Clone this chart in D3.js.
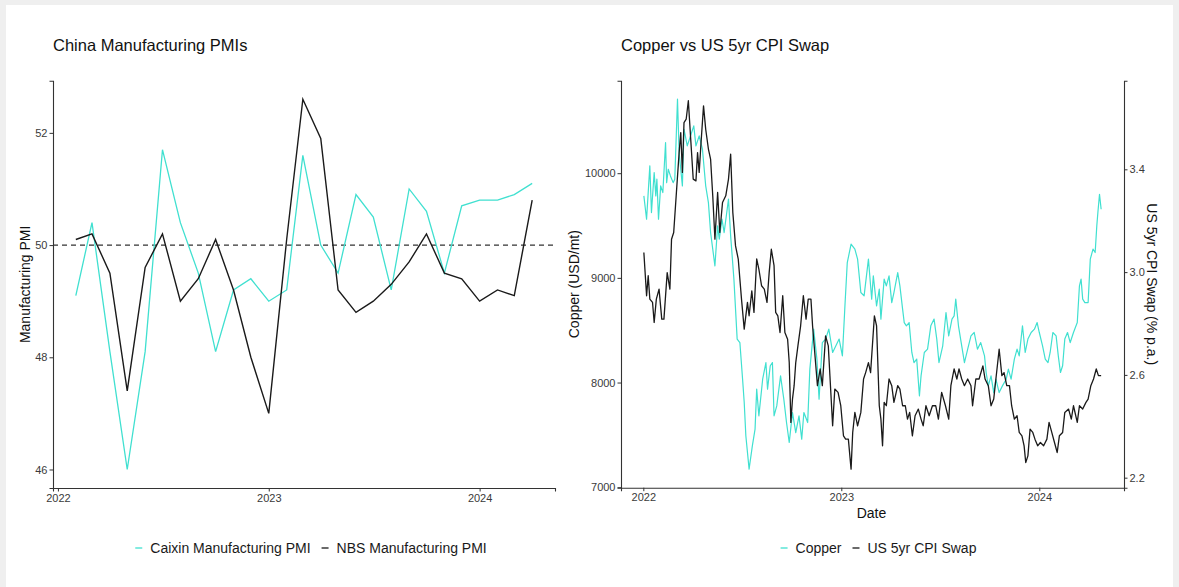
<!DOCTYPE html>
<html><head><meta charset="utf-8">
<script src="https://cdn.jsdelivr.net/npm/d3@7"></script>
<style>
html,body{margin:0;padding:0;background:#efefef;}
svg{display:block;}
text{font-family:"Liberation Sans",Arial,Helvetica,sans-serif;}
</style></head><body>
<svg id="chart" width="1179" height="587"></svg>
<script>
// ---------------- DATA ----------------
const pmiDates = ["2022-02-01","2022-03-01","2022-04-01","2022-05-01","2022-06-01","2022-07-01","2022-08-01","2022-09-01","2022-10-01","2022-11-01","2022-12-01",
  "2023-01-01","2023-02-01","2023-03-01","2023-04-01","2023-05-01","2023-06-01","2023-07-01","2023-08-01","2023-09-01","2023-10-01","2023-11-01","2023-12-01",
  "2024-01-01","2024-02-01","2024-03-01","2024-04-01"];
const caixinPMI = [49.1,50.4,48.1,46.0,48.1,51.7,50.4,49.5,48.1,49.2,49.4,49.0,49.2,51.6,50.0,49.5,50.9,50.5,49.2,51.0,50.6,49.5,50.7,50.8,50.8,50.9,51.1];
const nbsPMI    = [50.1,50.2,49.5,47.4,49.6,50.2,49.0,49.4,50.1,49.2,48.0,47.0,50.1,52.6,51.9,49.2,48.8,49.0,49.3,49.7,50.2,49.5,49.4,49.0,49.2,49.1,50.8];
const pmiThreshold = 50;
const pmiTicks = [46,48,50,52];
const yearTicks = ["2022","2023","2024"];

const copperDates = ["2022-01-02","2022-01-07","2022-01-13","2022-01-16","2022-01-21","2022-01-24","2022-01-26","2022-01-29","2022-02-02","2022-02-06","2022-02-11","2022-02-13","2022-02-16","2022-02-20","2022-02-25","2022-02-28",
"2022-03-05","2022-03-08","2022-03-14","2022-03-17","2022-03-23","2022-04-04","2022-04-08","2022-04-14","2022-04-20","2022-04-26","2022-05-01","2022-05-05","2022-05-13","2022-05-18","2022-05-21","2022-05-26","2022-05-30",
"2022-06-07","2022-06-11","2022-06-17","2022-06-23","2022-06-28","2022-07-03","2022-07-06","2022-07-09","2022-07-15","2022-07-21","2022-07-26","2022-07-29","2022-08-02","2022-08-09","2022-08-15","2022-08-18","2022-08-23","2022-08-27","2022-08-30",
"2022-09-04","2022-09-11","2022-09-17","2022-09-22","2022-09-27","2022-10-03","2022-10-09","2022-10-15","2022-10-20","2022-10-24","2022-10-31","2022-11-04","2022-11-11","2022-11-17","2022-11-21","2022-11-27",
"2022-12-03","2022-12-09","2022-12-16","2022-12-22","2022-12-28","2023-01-03","2023-01-08","2023-01-12","2023-01-19","2023-01-26","2023-01-31","2023-02-06","2023-02-12","2023-02-20","2023-02-24","2023-02-26",
"2023-03-01","2023-03-07","2023-03-12","2023-03-15","2023-03-21","2023-03-25","2023-03-30","2023-04-04","2023-04-08","2023-04-15","2023-04-19","2023-04-24","2023-04-27","2023-05-01","2023-05-06","2023-05-11","2023-05-15","2023-05-20","2023-05-25","2023-05-28",
"2023-06-03","2023-06-09","2023-06-15","2023-06-21","2023-06-26","2023-06-30","2023-07-07","2023-07-13","2023-07-18","2023-07-24","2023-07-28","2023-07-31","2023-08-05","2023-08-10","2023-08-16","2023-08-22","2023-08-28",
"2023-09-03","2023-09-09","2023-09-15","2023-09-22","2023-09-25","2023-09-29","2023-10-04","2023-10-09","2023-10-13","2023-10-19","2023-10-25","2023-11-01","2023-11-05","2023-11-10","2023-11-16","2023-11-21","2023-11-25",
"2023-12-01","2023-12-06","2023-12-11","2023-12-17","2023-12-23","2023-12-28","2024-01-01","2024-01-07","2024-01-12","2024-01-17","2024-01-21","2024-01-26","2024-02-01","2024-02-05","2024-02-09","2024-02-13","2024-02-17","2024-02-22","2024-02-27",
"2024-03-04","2024-03-11","2024-03-15","2024-03-18","2024-03-21","2024-03-25","2024-03-31","2024-04-04","2024-04-09","2024-04-13","2024-04-16","2024-04-18","2024-04-21","2024-04-24"];
const copperValues = [9783,9560,10070,9624,10006,9783,9943,9561,9879,9815,10292,9910,10038,9974,9910,9943,
10707,10197,9879,10420,10261,10452,10261,10356,10229,9879,9719,9433,9115,9497,9370,9561,9433,
9752,9401,8988,8415,8382,8032,7809,7491,7173,7395,7555,7937,7682,8032,8191,7937,8160,8191,7682,
7777,8064,7841,7618,7427,7713,7522,7682,7459,7713,7618,8128,8510,8224,7841,8382,
8415,8510,8287,8351,8415,8255,8764,9146,9322,9274,9179,8860,8828,9179,8924,8797,
9019,8733,8892,8606,8988,8924,9019,8764,8860,9051,8924,8701,8573,8542,8573,8287,8191,8224,7873,8064,
8287,8319,8542,8606,8415,8191,8351,8669,8446,8606,8637,8797,8542,8382,8191,8319,8446,
8478,8319,8382,8255,8096,7968,8064,7904,8032,7904,7968,8032,8128,8032,8224,8319,8255,
8542,8287,8415,8478,8510,8573,8478,8351,8224,8191,8287,8478,8446,8255,8096,8160,8415,8478,8382,
8478,8573,8924,8988,8797,8764,8764,9179,9274,9242,9497,9624,9799,9656];

const cpiDates = ["2022-01-02","2022-01-07","2022-01-10","2022-01-13","2022-01-18","2022-01-21","2022-01-25","2022-01-30","2022-02-04","2022-02-08","2022-02-14","2022-02-19","2022-02-22","2022-02-26",
"2022-03-03","2022-03-08","2022-03-11","2022-03-14","2022-03-17","2022-03-21","2022-03-25","2022-03-29","2022-04-03","2022-04-08","2022-04-11","2022-04-14","2022-04-17","2022-04-22","2022-04-26",
"2022-05-01","2022-05-05","2022-05-09","2022-05-13","2022-05-18","2022-05-22","2022-05-27","2022-06-02","2022-06-07","2022-06-11","2022-06-15","2022-06-20","2022-06-25",
"2022-07-01","2022-07-06","2022-07-12","2022-07-15","2022-07-20","2022-07-24","2022-07-29","2022-08-02","2022-08-07","2022-08-12","2022-08-17","2022-08-21","2022-08-25","2022-08-30",
"2022-09-02","2022-09-06","2022-09-10","2022-09-15","2022-09-19","2022-09-24","2022-09-27","2022-09-30","2022-10-03","2022-10-06","2022-10-09","2022-10-13","2022-10-18","2022-10-23","2022-10-28",
"2022-11-01","2022-11-06","2022-11-09","2022-11-13","2022-11-18","2022-11-23","2022-11-27","2022-12-03","2022-12-08","2022-12-11","2022-12-16","2022-12-20","2022-12-26","2022-12-31",
"2023-01-05","2023-01-09","2023-01-14","2023-01-19","2023-01-22","2023-01-26","2023-01-31","2023-02-06","2023-02-11","2023-02-15","2023-02-20","2023-02-24",
"2023-03-03","2023-03-07","2023-03-12","2023-03-15","2023-03-18","2023-03-21","2023-03-25","2023-03-30","2023-04-04","2023-04-08","2023-04-15","2023-04-19","2023-04-24","2023-04-29",
"2023-05-03","2023-05-07","2023-05-12","2023-05-17","2023-05-23","2023-05-28","2023-06-01","2023-06-06","2023-06-12","2023-06-18","2023-06-24","2023-06-29",
"2023-07-05","2023-07-12","2023-07-18","2023-07-22","2023-07-28","2023-08-02","2023-08-06","2023-08-11","2023-08-16","2023-08-22","2023-08-28","2023-08-31",
"2023-09-06","2023-09-12","2023-09-19","2023-09-23","2023-09-29","2023-10-04","2023-10-09","2023-10-13","2023-10-19","2023-10-24","2023-10-28",
"2023-11-02","2023-11-07","2023-11-11","2023-11-16","2023-11-21","2023-11-25","2023-11-30","2023-12-04","2023-12-07","2023-12-11","2023-12-15","2023-12-20","2023-12-24","2023-12-29",
"2024-01-03","2024-01-09","2024-01-15","2024-01-19","2024-01-24","2024-01-29","2024-02-03","2024-02-07","2024-02-13","2024-02-17","2024-02-24","2024-02-29",
"2024-03-04","2024-03-11","2024-03-15","2024-03-21","2024-03-27","2024-03-31","2024-04-05","2024-04-10","2024-04-15","2024-04-19","2024-04-24"];
const cpiValues = [3.076,2.908,2.986,2.895,2.882,2.804,2.895,2.934,2.817,2.817,2.998,2.934,3.128,3.154,
3.310,3.465,3.543,3.388,3.582,3.595,3.667,3.530,3.362,3.355,3.465,3.388,3.491,3.647,3.556,
3.479,3.440,3.297,3.128,3.310,3.154,3.271,3.297,3.362,3.459,3.232,3.102,3.051,
2.895,2.778,2.882,2.830,2.927,2.843,3.051,3.012,2.947,2.934,2.882,2.998,3.089,3.025,
2.843,2.830,2.765,2.908,2.765,2.739,2.648,2.415,2.506,2.558,2.648,2.713,2.791,2.908,2.817,
2.895,2.895,2.791,2.687,2.558,2.623,2.558,2.752,2.713,2.597,2.402,2.545,2.532,2.480,
2.363,2.350,2.350,2.233,2.376,2.454,2.402,2.454,2.584,2.610,2.648,2.609,
2.830,2.791,2.480,2.428,2.324,2.493,2.480,2.584,2.558,2.493,2.558,2.545,2.480,2.480,
2.428,2.454,2.363,2.441,2.467,2.428,2.402,2.480,2.441,2.480,2.480,2.428,
2.532,2.480,2.428,2.558,2.623,2.584,2.623,2.584,2.558,2.584,2.558,2.480,
2.584,2.584,2.635,2.584,2.558,2.480,2.506,2.584,2.700,2.597,2.609,
2.558,2.558,2.480,2.428,2.441,2.376,2.363,2.324,2.259,2.285,2.389,2.376,2.350,2.324,
2.337,2.324,2.350,2.415,2.376,2.337,2.298,2.363,2.376,2.454,2.467,2.428,
2.480,2.415,2.480,2.467,2.493,2.506,2.558,2.584,2.623,2.597,2.597];
const copperTicks = [7000,8000,9000,10000];
const cpiTicks = [2.2,2.6,3.0,3.4];
// secondary axis relation: copper-equivalent = offset + factor * CPI swap
const secOffset = 1690, secFactor = 2455;

const leftLegend = ["Caixin Manufacturing PMI","NBS Manufacturing PMI"];
const rightLegend = ["Copper","US 5yr CPI Swap"];

// ---------------- STYLE ----------------
const TEAL = "#40E0D0", DARK = "#1a1a1a", AXIS = "#333333", TICKTXT = "#3a3a3a";
const parse = d3.timeParse("%Y-%m-%d");
const svg = d3.select("#chart");
svg.append("rect").attr("x",6).attr("y",5).attr("width",1167).attr("height",582).attr("fill","#ffffff");

function pad(ext, f){ const r = ext[1]-ext[0]; return [ext[0]-r*f, ext[1]+r*f]; }
function styleAxis(g){
  g.select(".domain").attr("stroke",AXIS).attr("stroke-width",1.1);
  g.selectAll(".tick line").attr("stroke",AXIS).attr("stroke-width",1);
  g.selectAll(".tick text").attr("fill",TICKTXT).attr("font-size","11px");
}
function legend(cx, y, labels, colors){
  const g = svg.append("g");
  let x = 0;
  labels.forEach((lab,i)=>{
    g.append("line").attr("x1",x).attr("x2",x+7).attr("y1",y).attr("y2",y)
      .attr("stroke",colors[i]).attr("stroke-width",1.3);
    x += 15;
    const t = g.append("text").attr("x",x).attr("y",y).attr("dy","0.35em")
      .attr("font-size","14px").attr("fill","#1a1a1a").text(lab);
    x += t.node().getComputedTextLength() + 11;
  });
  const w = x - 11;
  g.attr("transform",`translate(${cx - w/2},0)`);
}

// ---------------- LEFT CHART ----------------
{
  const P = {x0:53, x1:555, y0:80.7, y1:488};
  const dates = pmiDates.map(parse);
  const xd = d3.extent(dates);
  const span = xd[1]-xd[0];
  const x = d3.scaleTime().domain([new Date(+xd[0]-span*0.05), new Date(+xd[1]+span*0.05)]).range([P.x0,P.x1]);
  const y = d3.scaleLinear().domain(pad(d3.extent(caixinPMI.concat(nbsPMI)),0.05)).range([P.y1,P.y0]);

  svg.append("line").attr("x1",P.x0).attr("x2",P.x1).attr("y1",y(pmiThreshold)).attr("y2",y(pmiThreshold))
    .attr("stroke",AXIS).attr("stroke-width",1.2).attr("stroke-dasharray","5,4");

  const line = d3.line().x((d,i)=>x(dates[i])).y(d=>y(d));
  svg.append("path").datum(caixinPMI).attr("d",line).attr("fill","none").attr("stroke",TEAL).attr("stroke-width",1.3);
  svg.append("path").datum(nbsPMI).attr("d",line).attr("fill","none").attr("stroke",DARK).attr("stroke-width",1.4);

  const gx = svg.append("g").attr("transform",`translate(0,${P.y1})`)
    .call(d3.axisBottom(x).tickValues(yearTicks.map(s=>parse(s+"-01-01"))).tickFormat(d3.timeFormat("%Y")).tickSizeOuter(0).tickSize(3.5).tickPadding(2.5));
  styleAxis(gx);
  const gy = svg.append("g").attr("transform",`translate(${P.x0},0)`)
    .call(d3.axisLeft(y).tickValues(pmiTicks).tickFormat(d3.format("d")).tickSizeOuter(0).tickSize(3.5).tickPadding(2));
  styleAxis(gy);

  svg.append("text").attr("x",P.x0).attr("y",50.5).attr("font-size","16.5px").attr("fill","#111").text("China Manufacturing PMIs");
  svg.append("text").attr("transform",`translate(25,${(P.y0+P.y1)/2}) rotate(-90)`).attr("text-anchor","middle")
    .attr("dy","0.35em").attr("font-size","14px").attr("fill","#111").text("Manufacturing PMI");
  legend((P.x0+P.x1)/2+7, 548, leftLegend, [TEAL, DARK]);
}

// ---------------- RIGHT CHART ----------------
{
  const P = {x0:621, x1:1124, y0:80.7, y1:487.7};
  const cd = copperDates.map(parse), sd = cpiDates.map(parse);
  const xd = d3.extent(cd.concat(sd));
  const span = xd[1]-xd[0];
  const x = d3.scaleTime().domain([new Date(+xd[0]-span*0.05), new Date(+xd[1]+span*0.05)]).range([P.x0,P.x1]);
  const toCu = v => secOffset + secFactor*v;
  const yd = pad(d3.extent(copperValues.concat(cpiValues.map(toCu))),0.05);
  const y = d3.scaleLinear().domain(yd).range([P.y1,P.y0]);
  const y2 = d3.scaleLinear().domain(yd.map(c=>(c-secOffset)/secFactor)).range([P.y1,P.y0]);

  svg.append("path").datum(copperValues).attr("d",d3.line().x((d,i)=>x(cd[i])).y(d=>y(d)))
    .attr("fill","none").attr("stroke",TEAL).attr("stroke-width",1.2).attr("stroke-linejoin","round");
  svg.append("path").datum(cpiValues).attr("d",d3.line().x((d,i)=>x(sd[i])).y(d=>y2(d)))
    .attr("fill","none").attr("stroke",DARK).attr("stroke-width",1.3).attr("stroke-linejoin","round");

  const gx = svg.append("g").attr("transform",`translate(0,${P.y1})`)
    .call(d3.axisBottom(x).tickValues(yearTicks.map(s=>parse(s+"-01-01"))).tickFormat(d3.timeFormat("%Y")).tickSizeOuter(0).tickSize(3.5).tickPadding(2.5));
  styleAxis(gx);
  const gy = svg.append("g").attr("transform",`translate(${P.x0},0)`)
    .call(d3.axisLeft(y).tickValues(copperTicks).tickFormat(d3.format("d")).tickSizeOuter(0).tickSize(3.5).tickPadding(2));
  styleAxis(gy);
  const gy2 = svg.append("g").attr("transform",`translate(${P.x1},0)`)
    .call(d3.axisRight(y2).tickValues(cpiTicks).tickFormat(d3.format(".1f")).tickSizeOuter(0).tickSize(3.5).tickPadding(2));
  styleAxis(gy2);

  svg.append("text").attr("x",P.x0).attr("y",50.5).attr("font-size","16.5px").attr("fill","#111").text("Copper vs US 5yr CPI Swap");
  svg.append("text").attr("transform",`translate(574,${(P.y0+P.y1)/2}) rotate(-90)`).attr("text-anchor","middle")
    .attr("dy","0.35em").attr("font-size","14px").attr("fill","#111").text("Copper (USD/mt)");
  svg.append("text").attr("transform",`translate(1152,${(P.y0+P.y1)/2}) rotate(90)`).attr("text-anchor","middle")
    .attr("dy","0.35em").attr("font-size","14px").attr("fill","#111").text("US 5yr CPI Swap (% p.a.)");
  svg.append("text").attr("x",(P.x0+P.x1)/2 - 1).attr("y",513).attr("dy","0.35em").attr("text-anchor","middle")
    .attr("font-size","14px").attr("fill","#111").text("Date");
  legend((P.x0+P.x1)/2+6, 548, rightLegend, [TEAL, DARK]);
}
</script>
</body></html>
